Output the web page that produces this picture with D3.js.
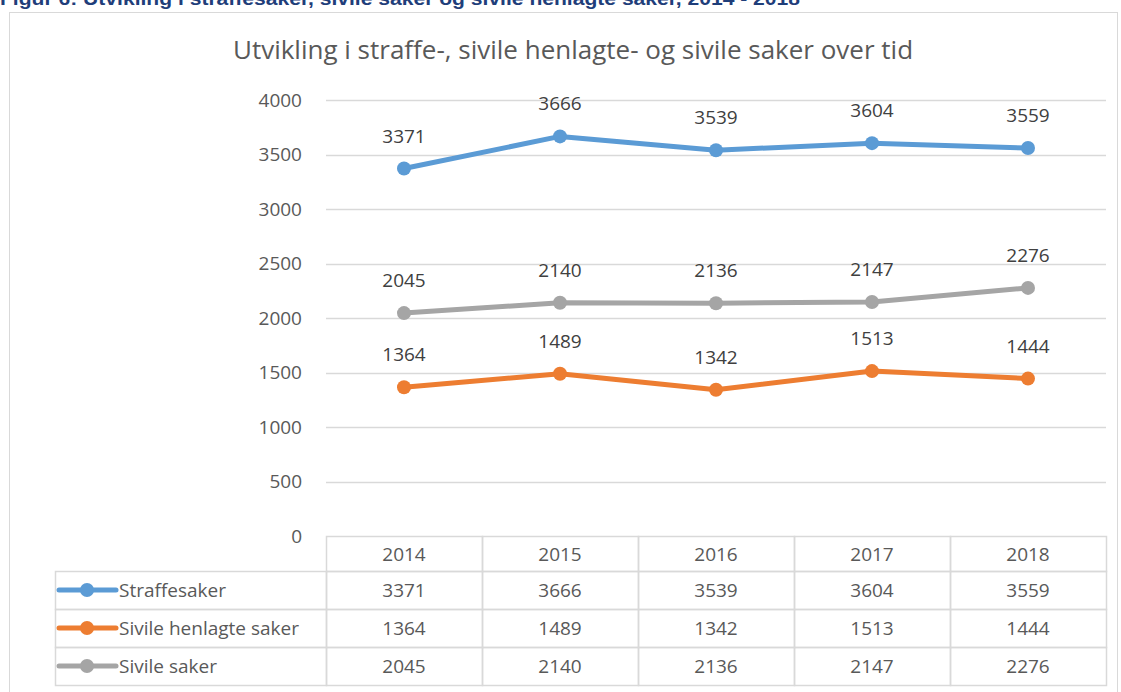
<!DOCTYPE html>
<html>
<head>
<meta charset="utf-8">
<script src="https://cdn.jsdelivr.net/npm/d3@7"></script>
<style>
  body { margin: 0; background: #fff; }
  svg { display: block; font-family: "Open Sans", "Noto Sans", sans-serif; }
</style>
</head>
<body>
<svg width="1121" height="692"></svg>
<script>
// data
var years = ["2014", "2015", "2016", "2017", "2018"];
var straffesaker = [3371, 3666, 3539, 3604, 3559];
var henlagte = [1364, 1489, 1342, 1513, 1444];
var sivile = [2045, 2140, 2136, 2147, 2276];
var yTicks = [0, 500, 1000, 1500, 2000, 2500, 3000, 3500, 4000];

var series = [
    { name: "Straffesaker", values: straffesaker, color: "#5B9BD5" },
    { name: "Sivile henlagte saker", values: henlagte, color: "#ED7D31" },
    { name: "Sivile saker", values: sivile, color: "#A5A5A5" }
];

var svg = d3.select("svg");

// caption above the chart box (cut off at the top in the original)
svg.append("text")
    .attr("x", 0).attr("y", 5)
    .attr("font-family", "Liberation Sans, sans-serif")
    .attr("font-weight", "bold")
    .attr("font-size", 18)
    .attr("fill", "#1F3E7A")
    .attr("textLength", 800)
    .attr("lengthAdjust", "spacingAndGlyphs")
    .text("Figur 6: Utvikling i straffesaker, sivile saker og sivile henlagte saker, 2014 - 2018");

// chart frame
svg.append("rect")
    .attr("x", 9.5).attr("y", 12.5)
    .attr("width", 1108).attr("height", 700)
    .attr("fill", "none").attr("stroke", "#D9D9D9");

svg.append("text")
    .attr("x", 573).attr("y", 59)
    .attr("text-anchor", "middle")
    .attr("font-size", 26)
    .attr("fill", "#595959")
    .text("Utvikling i straffe-, sivile henlagte- og sivile saker over tid");

var plotLeft = 326, plotRight = 1106, plotTop = 100, plotBottom = 536;

var x = d3.scaleBand().domain(years).range([plotLeft, plotRight]);
var y = d3.scaleLinear().domain([0, 4000]).range([plotBottom, plotTop]);

// gridlines
svg.append("g").selectAll("line")
    .data(yTicks.filter(function (d) { return d > 0; }))
    .enter().append("line")
    .attr("x1", plotLeft).attr("x2", plotRight)
    .attr("y1", function (d) { return Math.round(y(d)) + 0.5; })
    .attr("y2", function (d) { return Math.round(y(d)) + 0.5; })
    .attr("stroke", "#D9D9D9").attr("stroke-width", 1.5);

// y axis labels
var yAxis = d3.axisLeft(y).tickValues(yTicks).tickSize(0).tickPadding(0)
    .tickFormat(d3.format("d"));
var yg = svg.append("g").attr("transform", "translate(302,0)").call(yAxis);
yg.select(".domain").remove();
yg.selectAll("text")
    .attr("font-family", "Open Sans, sans-serif")
    .attr("font-size", 19)
    .attr("fill", "#595959");

// lines and markers
var line = d3.line()
    .x(function (d, i) { return x(years[i]) + x.bandwidth() / 2; })
    .y(function (d) { return y(d); });

series.forEach(function (s) {
    var g = svg.append("g");
    g.append("path")
        .datum(s.values)
        .attr("d", line)
        .attr("fill", "none")
        .attr("stroke", s.color)
        .attr("stroke-width", 5)
        .attr("stroke-linejoin", "round")
        .attr("stroke-linecap", "round");
    g.selectAll("circle")
        .data(s.values)
        .enter().append("circle")
        .attr("cx", function (d, i) { return x(years[i]) + x.bandwidth() / 2; })
        .attr("cy", function (d) { return y(d); })
        .attr("r", 7)
        .attr("fill", s.color);
    g.selectAll("text")
        .data(s.values)
        .enter().append("text")
        .attr("x", function (d, i) { return x(years[i]) + x.bandwidth() / 2; })
        .attr("y", function (d) { return y(d) - 26; })
        .attr("text-anchor", "middle")
        .attr("font-size", 19)
        .attr("fill", "#404040")
        .text(function (d) { return d; });
});

// data table under the plot
var rowH = 38;
var headTop = plotBottom, headH = 35;
var tableLeft = 55;
var gridColor = "#D9D9D9";
var table = svg.append("g");

// header row (years)
years.forEach(function (yr) {
    table.append("rect")
        .attr("x", x(yr) + 0.5).attr("y", headTop + 0.5)
        .attr("width", x.bandwidth()).attr("height", headH)
        .attr("fill", "none").attr("stroke", gridColor).attr("stroke-width", 1.5);
    table.append("text")
        .attr("x", x(yr) + x.bandwidth() / 2)
        .attr("y", headTop + headH / 2 + 7)
        .attr("text-anchor", "middle")
        .attr("font-size", 19).attr("fill", "#595959")
        .text(yr);
});

series.forEach(function (s, r) {
    var ry = headTop + headH + r * rowH;
    table.append("rect")
        .attr("x", tableLeft + 0.5).attr("y", ry + 0.5)
        .attr("width", plotLeft - tableLeft).attr("height", rowH)
        .attr("fill", "none").attr("stroke", gridColor).attr("stroke-width", 1.5);
    table.append("line")
        .attr("x1", 59).attr("x2", 116)
        .attr("y1", ry + rowH / 2).attr("y2", ry + rowH / 2)
        .attr("stroke", s.color).attr("stroke-width", 5)
        .attr("stroke-linecap", "round");
    table.append("circle")
        .attr("cx", 87).attr("cy", ry + rowH / 2).attr("r", 7)
        .attr("fill", s.color);
    table.append("text")
        .attr("x", 119).attr("y", ry + rowH / 2 + 7)
        .attr("font-size", 19).attr("fill", "#595959")
        .text(s.name);
    s.values.forEach(function (v, i) {
        table.append("rect")
            .attr("x", x(years[i]) + 0.5).attr("y", ry + 0.5)
            .attr("width", x.bandwidth()).attr("height", rowH)
            .attr("fill", "none").attr("stroke", gridColor).attr("stroke-width", 1.5);
        table.append("text")
            .attr("x", x(years[i]) + x.bandwidth() / 2)
            .attr("y", ry + rowH / 2 + 7)
            .attr("text-anchor", "middle")
            .attr("font-size", 19).attr("fill", "#595959")
            .text(v);
    });
});
</script>
</body>
</html>
